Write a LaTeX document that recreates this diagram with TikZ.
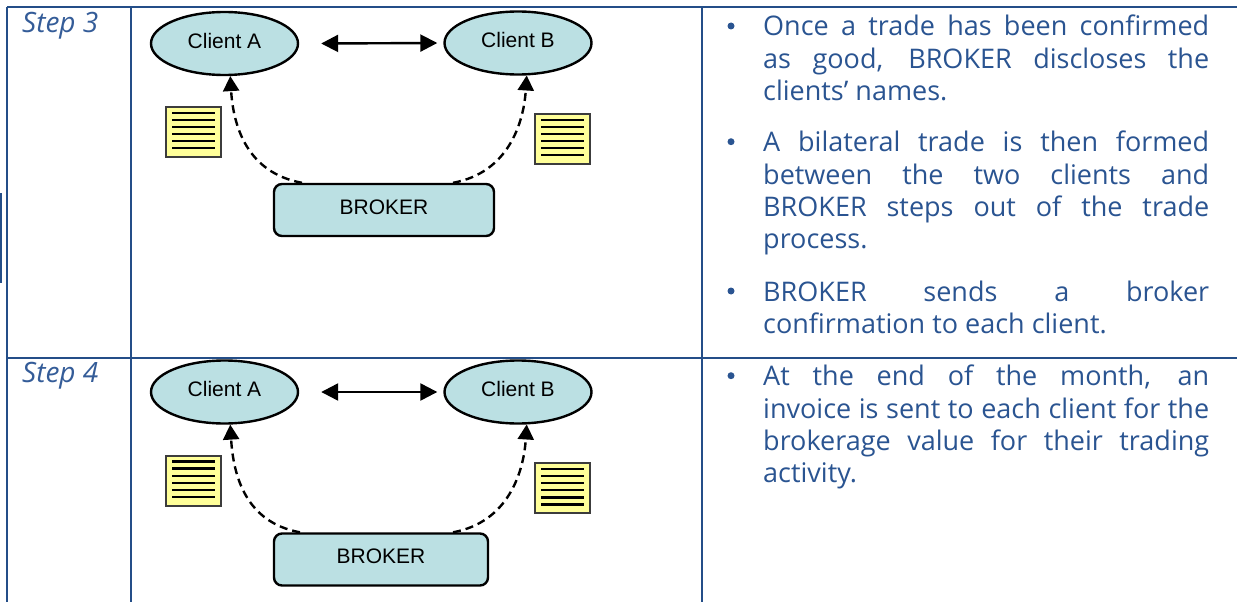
\documentclass[tikz,border=0pt]{standalone}
\usepackage{fontspec}
\setmainfont{Open Sans}
\newfontfamily\diagfont{Liberation Sans}
\usetikzlibrary{shapes.geometric,arrows.meta}
\definecolor{rule}{RGB}{36,78,136}
\definecolor{bodyblue}{RGB}{42,84,145}
\definecolor{steptext}{RGB}{52,92,152}
\definecolor{clientfill}{RGB}{187,224,227}
\definecolor{notefill}{RGB}{255,255,153}
\definecolor{notegray}{RGB}{60,60,60}
\tolerance=10000
\hyphenpenalty=10000

\begin{document}
\begin{tikzpicture}[x=1pt,y=-1pt,
  grid/.style={draw=rule,line width=2.2pt},
  steplabel/.style={anchor=base west,inner sep=0pt,text=steptext,font=\itshape\fontsize{28}{32}\selectfont},
  dot/.style={circle,fill=bodyblue,minimum size=7pt,inner sep=0pt},
  bodytext/.style={anchor=base west,inner sep=0pt,text width=446pt,align=justify,text=bodyblue,font=\fontsize{27}{32.3}\selectfont},
  client/.style={ellipse,draw,line width=2.4pt,fill=clientfill,minimum width=147pt,minimum height=63pt,inner sep=0pt,text depth=6pt,font=\diagfont\fontsize{21}{24}\selectfont},
  broker/.style={draw,rounded corners=8pt,line width=2.4pt,fill=clientfill,minimum height=52pt,inner sep=0pt,text depth=6pt,font=\diagfont\fontsize{21}{24}\selectfont},
  biarrow/.style={line width=2.4pt,{Triangle[length=17pt,width=17pt]}-{Triangle[length=17pt,width=17pt]}},
  feed/.style={line width=2.4pt,dash pattern=on 8pt off 5pt,-{Triangle[length=15pt,width=16pt]}},
  note/.pic={
    \draw[draw=notegray,line width=2pt,fill=notefill] (0,0) rectangle (55,50);
    \draw[line width=2.2pt] (6,5.7) -- (49,5.7) (6,12.8) -- (49,12.8) (6,19.9) -- (49,19.9)
      (6,27) -- (49,27) (6,34.1) -- (49,34.1) (6,41.2) -- (49,41.2);
  }]
  \useasboundingbox (0,0) rectangle (1237,602);

  % table
  \draw[grid] (7,7) -- (1237,7);
  \draw[grid] (7,358) -- (1237,358);
  \draw[grid] (7,7) -- (7,602);
  \draw[grid] (131,7) -- (131,602);
  \draw[grid] (702,7) -- (702,602);
  \draw[grid] (1,193) -- (1,283);

  % step 3
  \node[steplabel] (step3) at (22,33) {Step 3};
  \node[client] (clientA3) at (224.5,43.5) {Client A};
  \node[client] (clientB3) at (518,43) {Client B};
  \node[broker,minimum width=220pt] (broker3) at (384,210) {BROKER};
  \pic at (166,107) {note};
  \pic at (535,114) {note};
  \draw[biarrow] ([xshift=22pt]clientA3.east) -- ([xshift=-6pt]clientB3.west);
  \draw[feed] ([xshift=-82pt]broker3.north) .. controls +(-55,-10) and +(3,50) .. (clientA3.-80);
  \draw[feed] ([xshift=69pt]broker3.north) .. controls +(55,-10) and +(-3,48) .. (clientB3.-75);

  \node[dot] (dot31) at (731,26) {};
  \node[bodytext] (text31) at (763,36) {Once a trade has been confirmed\linebreak
    as good, BROKER discloses the\linebreak clients’ names.};
  \node[dot] (dot32) at (731,141.7) {};
  \node[bodytext] (text32) at (763,151.7) {A bilateral trade is then formed\linebreak
    between the two clients and\linebreak BROKER steps out of the trade\linebreak process.};
  \node[dot] (dot33) at (731,291) {};
  \node[bodytext] (text33) at (763,301) {BROKER sends a broker\linebreak
    confirmation to each client.};

  % step 4
  \node[steplabel] (step4) at (22,382) {Step 4};
  \node[client] (clientA4) at (224.5,392) {Client A};
  \node[client] (clientB4) at (518,392) {Client B};
  \node[broker,minimum width=214pt] (broker4) at (381,559.5) {BROKER};
  \pic at (166,455.7) {note};
  \pic at (535,463.3) {note};
  \draw[biarrow] ([xshift=22pt]clientA4.east) -- ([xshift=-6pt]clientB4.west);
  \draw[feed] ([xshift=-81pt]broker4.north) .. controls +(-55,-10) and +(3,50) .. (clientA4.-80);
  \draw[feed] ([xshift=72pt]broker4.north) .. controls +(55,-10) and +(-3,48) .. (clientB4.-75);

  \node[dot] (dot41) at (731,375.7) {};
  \node[bodytext] (text41) at (763,385.7) {At the end of the month, an\linebreak
    invoice is sent to each client for the\linebreak brokerage value for their trading\linebreak activity.};
\end{tikzpicture}
\end{document}
